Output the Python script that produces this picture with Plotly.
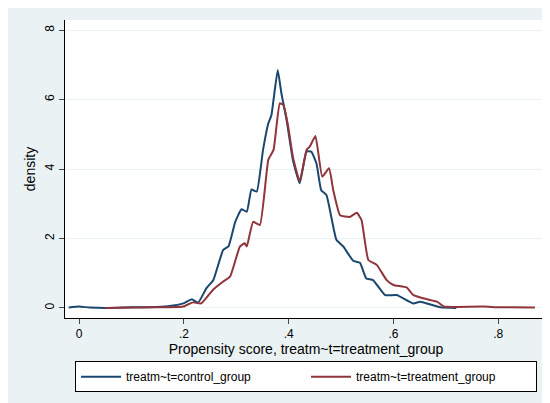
import plotly.graph_objects as go

# kernel density estimates
control_x = [-0.02, 0.0, 0.02, 0.06, 0.1, 0.1355, 0.17, 0.199, 0.215, 0.227, 0.243, 0.256, 0.275, 0.285,
             0.298, 0.310, 0.320, 0.329, 0.339, 0.351, 0.361, 0.367, 0.379, 0.386, 0.396,
             0.408, 0.421, 0.434, 0.443, 0.453, 0.462, 0.472, 0.491, 0.504, 0.523, 0.536,
             0.548, 0.561, 0.584, 0.606, 0.638, 0.651, 0.689, 0.72]
control_y = [0.01, 0.04, 0.01, 0.0, 0.02, 0.02, 0.05, 0.13, 0.25, 0.15, 0.57, 0.8, 1.67, 1.77,
             2.48, 2.84, 2.77, 3.41, 3.35, 4.55, 5.31, 5.55, 6.85, 6.18, 5.41,
             4.26, 3.59, 4.5, 4.5, 4.16, 3.39, 3.25, 1.96, 1.77, 1.36, 1.3,
             0.85, 0.8, 0.37, 0.37, 0.13, 0.18, 0.02, 0.0]

treat_x = [0.05, 0.1, 0.1355, 0.17, 0.199, 0.217, 0.233, 0.256, 0.275, 0.288, 0.307, 0.316, 0.32,
           0.332, 0.345, 0.361, 0.371, 0.383, 0.390, 0.399, 0.408, 0.421, 0.434, 0.44,
           0.451, 0.464, 0.477, 0.485, 0.498, 0.517, 0.530, 0.539, 0.552, 0.568, 0.587,
           0.600, 0.625, 0.638, 0.664, 0.683, 0.696, 0.72, 0.772, 0.80, 0.87]
treat_y = [0.0, 0.01, 0.02, 0.02, 0.04, 0.16, 0.13, 0.53, 0.76, 0.9, 1.77, 1.86, 1.77,
           2.48, 2.39, 4.26, 4.55, 5.89, 5.84, 5.22, 4.35, 3.64, 4.55, 4.64,
           4.95, 3.78, 4.02, 3.39, 2.67, 2.62, 2.74, 2.53, 1.38, 1.24, 0.8,
           0.66, 0.59, 0.37, 0.25, 0.18, 0.04, 0.03, 0.04, 0.02, 0.01]

x_ticks = [0, 0.2, 0.4, 0.6, 0.8]
x_labels = ["0", ".2", ".4", ".6", ".8"]
y_ticks = [0, 2, 4, 6, 8]

fig = go.Figure()
fig.add_trace(go.Scatter(x=control_x, y=control_y, mode="lines", name="treatm~t=control_group",
                         line=dict(color="#1a476f", width=2, shape="spline", smoothing=0.4)))
fig.add_trace(go.Scatter(x=treat_x, y=treat_y, mode="lines", name="treatm~t=treatment_group",
                         line=dict(color="#90353b", width=2, shape="spline", smoothing=0.4)))

# page body adds an 8px offset, so margins are shifted to compensate
fig.update_layout(
    width=550, height=403,
    paper_bgcolor="#eaf2f3", plot_bgcolor="white",
    margin=dict(l=57, r=11, t=12, b=93, autoexpand=False),
    font=dict(family="Liberation Sans, Arial", size=12, color="black"),
    showlegend=True,
    legend=dict(orientation="h", x=0.5, xanchor="center", y=-0.145, yanchor="top",
                bgcolor="white", bordercolor="black", borderwidth=1,
                font=dict(size=12), itemwidth=40, entrywidth=175),
)
fig.update_xaxes(range=[-0.027, 0.893], tickvals=x_ticks, ticktext=x_labels,
                 ticks="outside", ticklen=5, showgrid=False, zeroline=False,
                 showline=True, linecolor="black", mirror=False,
                 title=dict(text="Propensity score, treatm~t=treatment_group", standoff=0))
fig.update_yaxes(range=[-0.29, 8.29], tickvals=y_ticks, tickangle=-90,
                 ticks="outside", ticklen=5, showgrid=True, gridcolor="#eaf2f3",
                 zeroline=False, showline=True, linecolor="black",
                 title=dict(text="density", standoff=4))

fig.write_html("out.html")
